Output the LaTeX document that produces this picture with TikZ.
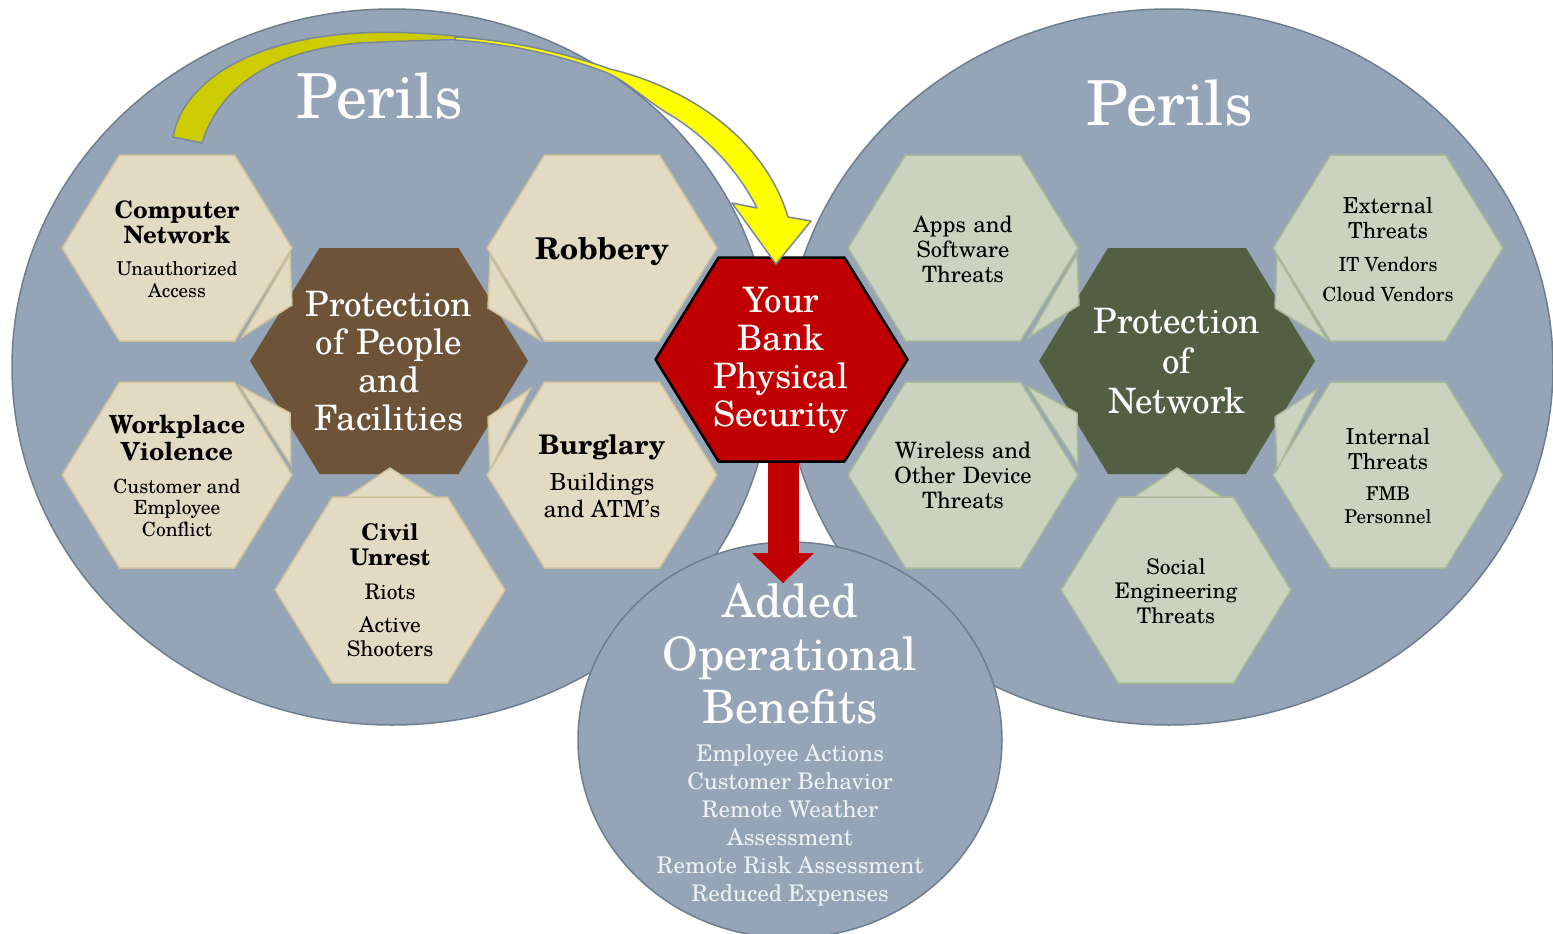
\documentclass[tikz,border=0pt]{standalone}
\usepackage{fontspec}
\setmainfont{TeX Gyre Schola}
\usetikzlibrary{arrows.meta,positioning}

\definecolor{fondcercle}{HTML}{95A5B7}
\definecolor{bordcercle}{HTML}{6E7E8E}
\definecolor{beige}{HTML}{E2DAC3}
\definecolor{beigetrait}{HTML}{CFC39C}
\definecolor{brun}{HTML}{6D5337}
\definecolor{sauge}{HTML}{CAD3BF}
\definecolor{saugetrait}{HTML}{A9B897}
\definecolor{vertfonce}{HTML}{535F42}
\definecolor{rouge}{HTML}{C00000}
\definecolor{olive}{HTML}{CCCC00}
\definecolor{jaune}{HTML}{FFFF00}
\definecolor{bordfleche}{HTML}{7B8898}
\definecolor{listeclair}{HTML}{EEF0F4}

\newcommand{\taille}[2]{\fontsize{#1}{#2}\selectfont\spaceskip=0.27em\relax}
% hexagone : style, centre, demi-largeur, demi-hauteur
\newcommand{\hexa}[4]{\path[#1] (#2) ++(-#3,0) -- ++(#3/2,-#4) -- ++(#3,0) -- ++(#3/2,#4) -- ++(-#3/2,#4) -- ++(-#3,0) -- cycle;}
% petits triangles vers le centre
\newcommand{\liens}[1]{%
  \path[#1] (290,254) -- (242,337) -- (292,305) -- cycle;
  \path[#1] (240,386) -- (290,413) -- (291,465) -- cycle;
  \path[#1] (490,256) -- (488,308) -- (540,340) -- cycle;
  \path[#1] (530,389) -- (488,417) -- (490,470) -- cycle;
  \path[#1] (390,468) -- (347,497) -- (435,497) -- cycle;}

\begin{document}
\begin{tikzpicture}[x=1pt, y=-1pt,
		cercle/.style={fill=fondcercle, draw=bordcercle, line width=1.5pt},
		hexbeige/.style={fill=beige, draw=beigetrait, line width=1.5pt},
		hexsauge/.style={fill=sauge, draw=saugetrait, line width=1.5pt},
		texte/.style={align=center, text width=240pt, inner sep=0pt, text=black},
		blanc/.style={align=center, text width=300pt, inner sep=0pt, text=white},
		titre/.style={text=white, inner sep=0pt, font=\taille{62}{62}},
		flecherouge/.style={draw=rouge, line width=31pt, -{Triangle[length=30pt, width=62pt, line width=0pt]}},
		fleche/.style={draw=bordfleche, line width=1.5pt, line join=round}
		]
		\useasboundingbox (0,0) rectangle (1553,934);
		\clip (0,0) rectangle (1553,934);
		
		% Les cercles
		\draw[cercle] (392,367) ellipse (380 and 358);
		\draw[cercle] (1169,367) ellipse (384 and 358);
		\draw[cercle] (790,740) ellipse (212 and 198);
		
		% Fleche rouge
		\coordinate (hautfleche) at (783,450);
		\coordinate (basfleche) at (783,583);
		\draw[flecherouge] (hautfleche) -- (basfleche);
		
		% Bloc gauche
		\hexa{hexbeige}{177,248}{115}{93}
		\hexa{hexbeige}{602,248}{115}{93}
		\hexa{hexbeige}{177,475}{115}{93}
		\hexa{hexbeige}{602,475}{115}{93}
		\hexa{hexbeige}{390,590}{115}{93}
		\hexa{fill=brun}{389,361}{139}{113}
		\liens{hexbeige}
		
		\node[texte] (cn) at (177,249) {{\bfseries\taille{24}{25}Computer\\Network\par}\vspace{10pt}{\taille{19}{22}Unauthorized\\Access\par}};
		\node[texte] (rob) at (602,252) {\bfseries\taille{30}{32}Robbery};
		\node[texte] (wv) at (177,476) {{\bfseries\taille{25}{27}Workplace\\Violence\par}\vspace{11pt}{\taille{19.5}{21.5}Customer and\\Employee\\Conflict\par}};
		\node[texte] (burg) at (602,476) {{\bfseries\taille{27}{29}Burglary\par}\vspace{9pt}{\taille{23.5}{27}Buildings\\and ATM’s\par}};
		\node[texte] (civil) at (390,590) {{\bfseries\taille{23}{25}Civil\\Unrest\par}\vspace{10pt}{\taille{21.5}{24}Riots\par}\vspace{9pt}{\taille{21.5}{24}Active\\Shooters\par}};
		\node[blanc, font=\taille{35}{38}] (ppf) at (389,361) {Protection\\of People\\and\\Facilities};
		
		% Bloc droit
		\begin{scope}[shift={(787,0)}]
			\hexa{hexsauge}{176,248}{115}{93}
			\hexa{hexsauge}{601,248}{115}{93}
			\hexa{hexsauge}{176,475}{115}{93}
			\hexa{hexsauge}{601,475}{115}{93}
			\hexa{hexsauge}{389,590}{115}{93}
			\hexa{fill=vertfonce}{390,361}{138}{113}
			\liens{hexsauge}
		\end{scope}
		
		\node[texte, font=\taille{22.5}{25}] (apps) at (963,249) {Apps and\\Software\\Threats};
		\node[texte] (ext) at (1388,250) {{\taille{22}{25}External\\Threats\par}\vspace{3pt}{\taille{19.5}{30}IT Vendors\\Cloud Vendors\par}};
		\node[texte, font=\taille{22.5}{25}] (wire) at (963,475) {Wireless and\\Other Device\\Threats};
		\node[texte] (intl) at (1388,476) {{\taille{22}{25}Internal\\Threats\par}\vspace{8pt}{\taille{19}{23}FMB\\Personnel\par}};
		\node[texte, font=\taille{21.5}{24.5}] (social) at (1176,591) {Social\\Engineering\\Threats};
		\node[blanc, font=\taille{35}{40}] (net) at (1177,361) {Protection\\of\\Network};
		
		% Hexagone rouge
		\hexa{fill=rouge, draw=black, line width=2.5pt, line join=round}{781.5,359.5}{126}{102}
		\node[blanc, font=\taille{35}{38}] (banque) at (781,360) {Your\\Bank\\Physical\\Security};
		
		% Fleche jaune
		\path[fleche, fill=olive] (173,137) .. controls (183,80) and (255,38) .. (360,33) .. controls (400,31) and (440,34) .. (475,38)
			-- (475,39) .. controls (440,40) and (400,41) .. (360,43) .. controls (275,50) and (220,85) .. (202,143) -- cycle;
		\path[fleche, fill=jaune] (455,37) .. controls (520,41) and (570,55) .. (610,69) .. controls (690,88) and (765,140) .. (788,217)
			-- (811,221) -- (776,264) -- (732,203) -- (757,208) .. controls (738,170) and (705,135) .. (667,113)
			.. controls (640,96) and (625,80) .. (605,72) .. controls (560,55) and (510,44) .. (455,40) -- cycle;
		
		% Les titres
		\node[titre, anchor=base] (perilsG) at (380,118) {Perils};
		\node[titre, anchor=base] (perilsD) at (1170,125) {Perils};
		\node[blanc] (benef) at (790,745) {{\taille{46}{53}Added\\Operational\\Benefits\par}\vspace{10pt}{\color{listeclair}\taille{23}{28}Employee Actions\\Customer Behavior\\Remote Weather\\Assessment\\Remote Risk Assessment\\Reduced Expenses\par}};
	\end{tikzpicture}
\end{document}
